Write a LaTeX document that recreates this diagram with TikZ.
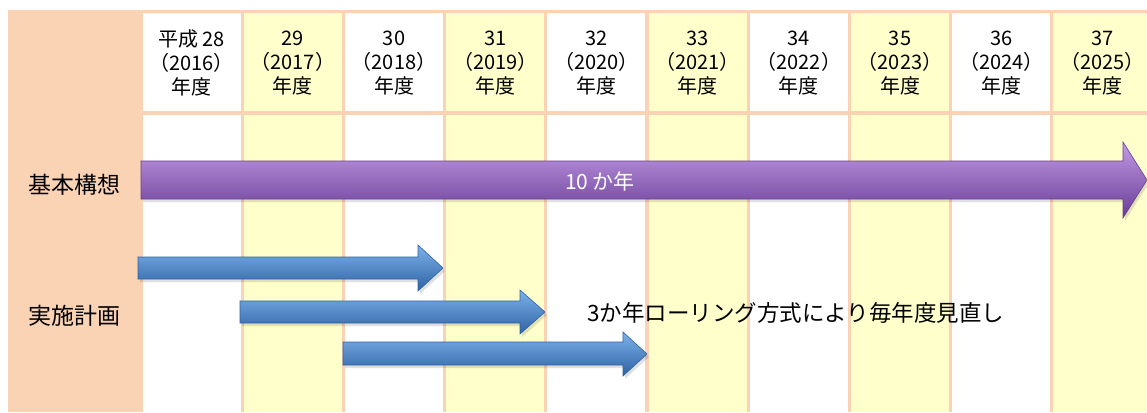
\documentclass[tikz,border=0pt]{standalone}
\usepackage{fontspec}
\setmainfont{Noto Sans CJK JP}
\definecolor{peach}{HTML}{FAD3B5}
\definecolor{lyellow}{HTML}{FFFFCC}
\definecolor{purA}{HTML}{C29BE4}
\definecolor{purB}{HTML}{8352B0}
\definecolor{purC}{HTML}{683C96}
\definecolor{bluA}{HTML}{7CB2EA}
\definecolor{bluB}{HTML}{4A87CE}
\definecolor{bluC}{HTML}{2E62A4}
\begin{document}
\begin{tikzpicture}[x=1pt,y=-1pt,
  hdr/.style={font=\fontsize{20}{24}\selectfont, align=center, inner sep=0pt},
  rowlbl/.style={font=\fontsize{23}{26}\selectfont, inner sep=0pt},
  purplearrow/.style={top color=purA, middle color=purB, bottom color=purC, draw=purC, line width=0.6pt},
  bluearrow/.style={top color=bluA, middle color=bluB, bottom color=bluC, draw=bluC, line width=0.6pt},
  shadowfill/.style={fill=black, opacity=0.12},
  note/.style={font=\fontsize{22.5}{24}\selectfont, inner sep=0pt}]
\useasboundingbox (0,0) rectangle (1147,412);
\fill[white] (0,0) rectangle (1147,412);
\fill[peach] (8,10) rectangle (1147,412);
% columns
\foreach \i/\ya/\yb in {0/平成 28/2016,1/29/2017,2/30/2018,3/31/2019,4/32/2020,5/33/2021,6/34/2022,7/35/2023,8/36/2024,9/37/2025}{
  \pgfmathsetmacro{\xa}{141+\i*101.2+1.6}
  \pgfmathsetmacro{\xb}{141+(\i+1)*101.2-1.6}
  \pgfmathsetmacro{\xc}{141+(\i+0.5)*101.2}
  \ifodd\i
    \fill[lyellow] (\xa,13) rectangle (\xb,111);
    \fill[lyellow] (\xa,115) rectangle (\xb,412);
  \else
    \fill[white] (\xa,13) rectangle (\xb,111);
    \fill[white] (\xa,115) rectangle (\xb,412);
  \fi
  \node[hdr] (h\i) at (\xc,63) {\ya\\（\yb）\\年度};
}
% row labels
\node[rowlbl] (kihon) at (74,185) {基本構想};
\node[rowlbl] (jisshi) at (74,316) {実施計画};
% purple arrow (10 years)
\fill[shadowfill] (143,164) -- (1125,164) -- (1125,145) -- (1149,183) -- (1125,221) -- (1125,202) -- (143,202) -- cycle;
\shade[purplearrow] (141,161) -- (1123,161) -- (1123,142) -- (1147,180) -- (1123,218) -- (1123,199) -- (141,199) -- cycle;
\node[font=\fontsize{21}{24}\selectfont, text=white, inner sep=0pt] (ten) at (600,181) {10 か年};
% blue arrows (rolling plans)
\fill[shadowfill] (140,260) -- (420,260) -- (420,248) -- (445,271) -- (420,294) -- (420,282) -- (140,282) -- cycle;
\shade[bluearrow] (138,257) -- (418,257) -- (418,245) -- (443,268) -- (418,291) -- (418,279) -- (138,279) -- cycle;
\fill[shadowfill] (242,304) -- (522,304) -- (522,293) -- (547,315) -- (522,337) -- (522,326) -- (242,326) -- cycle;
\shade[bluearrow] (240,301) -- (520,301) -- (520,290) -- (545,312) -- (520,334) -- (520,323) -- (240,323) -- cycle;
\fill[shadowfill] (345,345) -- (625,345) -- (625,335) -- (649,357) -- (625,379) -- (625,368) -- (345,368) -- cycle;
\shade[bluearrow] (343,342) -- (623,342) -- (623,332) -- (647,354) -- (623,376) -- (623,365) -- (343,365) -- cycle;
\node[note, anchor=west] (roll) at (587,313) {3か年ローリング方式により毎年度見直し};
\end{tikzpicture}
\end{document}
